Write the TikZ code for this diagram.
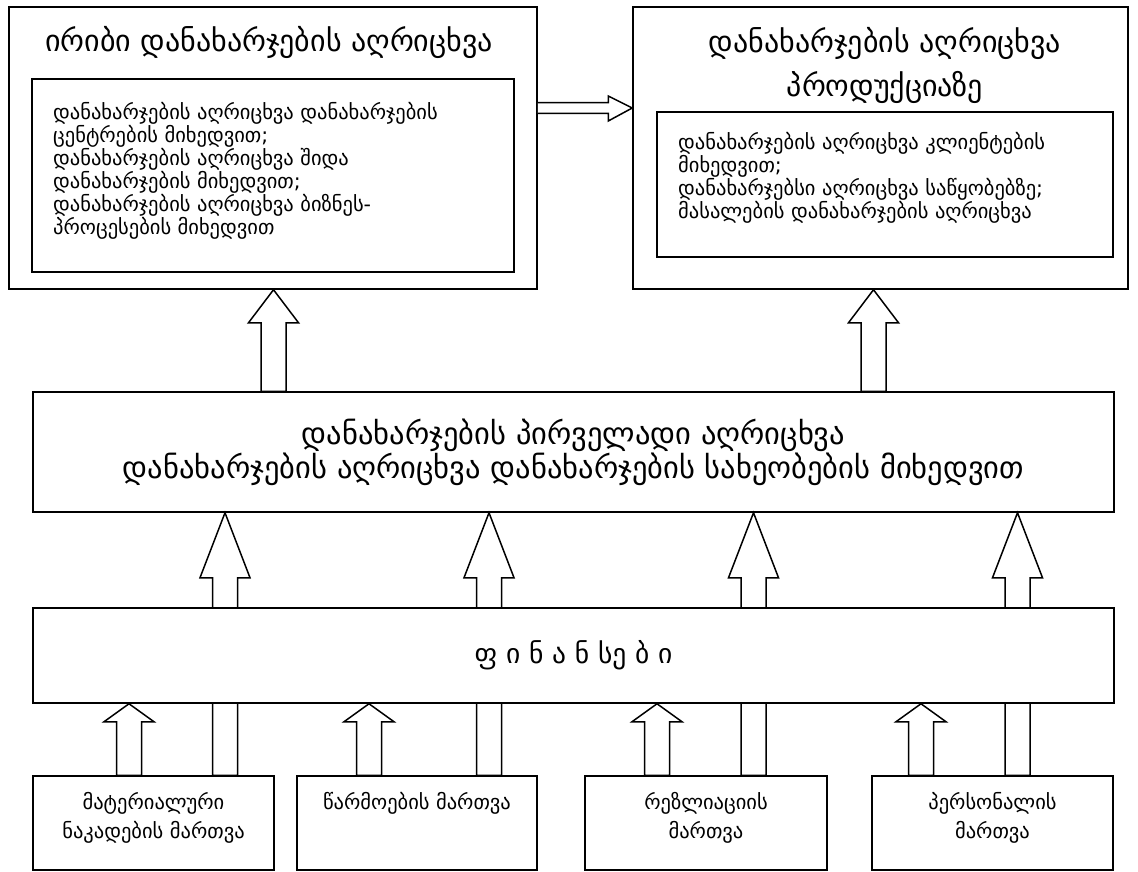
\documentclass[tikz,border=0pt]{standalone}
\usepackage{fontspec}
\setmainfont{DejaVu Sans}
\usetikzlibrary{positioning,calc}

\tikzset{
  box/.style={draw, line width=1.5pt, fill=white, inner sep=0pt},
  titletext/.style={font=\fontsize{30}{44}\selectfont, align=center, inner sep=0pt},
  listtext/.style={font=\fontsize{20.5}{21}\selectfont, align=left, inner sep=0pt},
  midtext/.style={font=\fontsize{30.5}{31}\selectfont, align=center},
  smalltext/.style={font=\fontsize{20.5}{29}\selectfont, align=center, inner sep=0pt},
  arrowline/.style={line width=1.5pt, fill=white, line join=miter},
}

% hollow block arrow going up: x, from, to, head length
\newcommand{\fatup}[4]{%
  \draw[arrowline] let \p1=(#2), \p2=(#3) in
    (#1pt-12.5pt,\y1) -- (#1pt-12.5pt,\y2-#4pt) -- (#1pt-25pt,\y2-#4pt)
    -- (#1pt,\y2) -- (#1pt+25pt,\y2-#4pt) -- (#1pt+12.5pt,\y2-#4pt)
    -- (#1pt+12.5pt,\y1) -- cycle;}

\begin{document}
\begin{tikzpicture}[x=1pt,y=-1pt]
\useasboundingbox (0,0) rectangle (1138,872);

% top row
\node[box, minimum width=528pt, minimum height=282pt] (indirect) at (273,148) {};
\node[titletext] (indtitle) at (269,42) {ირიბი დანახარჯების აღრიცხვა};
\node[box, minimum width=482pt, minimum height=193pt] (indlist) at (273,175.5) {};
\node[listtext, anchor=north west] (indtext) at (53,102) {დანახარჯების აღრიცხვა დანახარჯების\\
ცენტრების მიხედვით;\\
დანახარჯების აღრიცხვა შიდა\\
დანახარჯების მიხედვით;\\
დანახარჯების აღრიცხვა ბიზნეს-\\
პროცესების მიხედვით};

\node[box, minimum width=495pt, minimum height=282pt] (product) at (880.5,148) {};
\node[titletext] (prodtitle) at (885,65) {დანახარჯების აღრიცხვა\\ პროდუქციაზე};
\node[box, minimum width=456pt, minimum height=145pt] (prodlist) at (885,184.5) {};
\node[listtext, anchor=north west] (prodtext) at (678,132) {დანახარჯების აღრიცხვა კლიენტების\\
მიხედვით;\\
დანახარჯებსი აღრიცხვა საწყობებზე;\\
მასალების დანახარჯების აღრიცხვა};

% indirect -> product
\draw[arrowline] let \p1=(indirect.east), \p2=(product.west) in
  (\x1,-102.7pt) -- (\x2-24pt,-102.7pt) -- (\x2-24pt,-96pt) -- (\x2,-108pt)
  -- (\x2-24pt,-121pt) -- (\x2-24pt,-113.3pt) -- (\x1,-113.3pt);

% primary accounting
\node[box, midtext, minimum width=1081pt, minimum height=120pt] (primary) at (573.5,452)
  {დანახარჯების პირველადი აღრიცხვა\\ დანახარჯების აღრიცხვა დანახარჯების სახეობების მიხედვით};

\fatup{273.5}{primary.north}{indirect.south}{33}
\fatup{873.5}{primary.north}{product.south}{33}

% management boxes
\node[box, minimum width=241pt, minimum height=94pt] (matflow) at (153.5,823) {};
\node[box, minimum width=240pt, minimum height=94pt] (producing) at (417,823) {};
\node[box, minimum width=242pt, minimum height=94pt] (realis) at (706,823) {};
\node[box, minimum width=241pt, minimum height=94pt] (staff) at (992.5,823) {};
\node[smalltext, anchor=north] at (matflow.north) [yshift=-17pt] {მატერიალური\\ ნაკადების მართვა};
\node[smalltext, anchor=north] at (producing.north) [yshift=-17pt] {წარმოების მართვა};
\node[smalltext, anchor=north] at (realis.north) [yshift=-17pt] {რეზლიაციის\\ მართვა};
\node[smalltext, anchor=north] at (staff.north) [yshift=-17pt] {პერსონალის\\ მართვა};

% long arrows, running behind the finance box
\fatup{225}{matflow.north}{primary.south}{65}
\fatup{489}{producing.north}{primary.south}{65}
\fatup{753.5}{realis.north}{primary.south}{65}
\fatup{1017.5}{staff.north}{primary.south}{65}

% finances
\node[box, font=\fontsize{27.5}{30}\selectfont, minimum width=1081pt, minimum height=95pt] (finance) at (573.5,655.5) {ფ ი ნ ა ნ სე ბ ი};

\fatup{129}{matflow.north}{finance.south}{18}
\fatup{369}{producing.north}{finance.south}{18}
\fatup{657}{realis.north}{finance.south}{18}
\fatup{921}{staff.north}{finance.south}{18}
\end{tikzpicture}
\end{document}
